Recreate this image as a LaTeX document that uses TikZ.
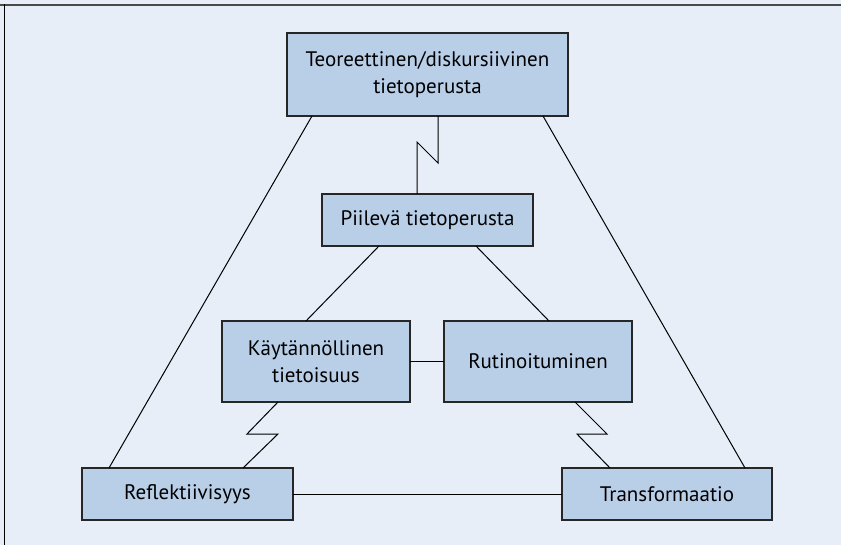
\documentclass[tikz,border=0pt]{standalone}
\usepackage{fontspec}
\setmainfont{PT Sans}
\usetikzlibrary{calc}
\definecolor{bgcol}{HTML}{E8EEF7}
\definecolor{boxcol}{HTML}{B9CFE8}
\definecolor{framecol}{HTML}{4A4A4A}
\begin{document}
\begin{tikzpicture}[x=1pt,y=-1pt,
  box/.style={draw=black!85, line width=1.3pt, fill=boxcol, rectangle, inner sep=0pt, outer sep=0pt, align=center, font=\fontsize{21}{27}\selectfont},
  conn/.style={draw=black, line width=1pt}]
\useasboundingbox (0,0) rectangle (841,545);
\fill[bgcol] (0,0) rectangle (841,545);
\draw[framecol, line width=2.5pt] (0,5) -- (841,5);
\draw[black, line width=1.5pt] (4.5,4) -- (4.5,545);

\node[box, minimum width=281pt, minimum height=83pt] (top) at (427.5,74.5) {Teoreettinen/diskursiivinen\\tietoperusta};
\node[box, minimum width=211pt, minimum height=52pt] (piil) at (427.5,220) {Piilevä tietoperusta};
\node[box, minimum width=188pt, minimum height=81pt] (kayt) at (316,361.5) {Käytännöllinen\\tietoisuus};
\node[box, minimum width=188pt, minimum height=81pt] (rut) at (538,361.5) {Rutinoituminen};
\node[box, minimum width=211pt, minimum height=52pt] (refl) at (187.5,494) {Reflektiivisyys};
\node[box, minimum width=210pt, minimum height=52pt] (trans) at (667,494) {Transformaatio};

\draw[conn] ([xshift=25pt]top.south west) -- ([xshift=27pt]refl.north west);
\draw[conn] ([xshift=-25pt]top.south east) -- ([xshift=-27pt]trans.north east);
\draw[conn] ([xshift=10.5pt]top.south) -- ++(0,47) -- ++(-21,-21) -- ([xshift=-10.5pt]piil.north);
\draw[conn] ([xshift=-48.5pt]piil.south) -- ([xshift=-10pt]kayt.north);
\draw[conn] ([xshift=48.5pt]piil.south) -- ([xshift=11pt]rut.north);
\draw[conn] (kayt.east) -- (rut.west);
\draw[conn] (refl.east) -- (trans.west);
\draw[conn] ([xshift=-38pt]kayt.south) -- ++(-31,32) -- ++(31,0) -- ([xshift=55.5pt]refl.north);
\draw[conn] ([xshift=37pt]rut.south) -- ++(32,32) -- ++(-30,0) -- ([xshift=-57pt]trans.north);
\end{tikzpicture}
\end{document}
